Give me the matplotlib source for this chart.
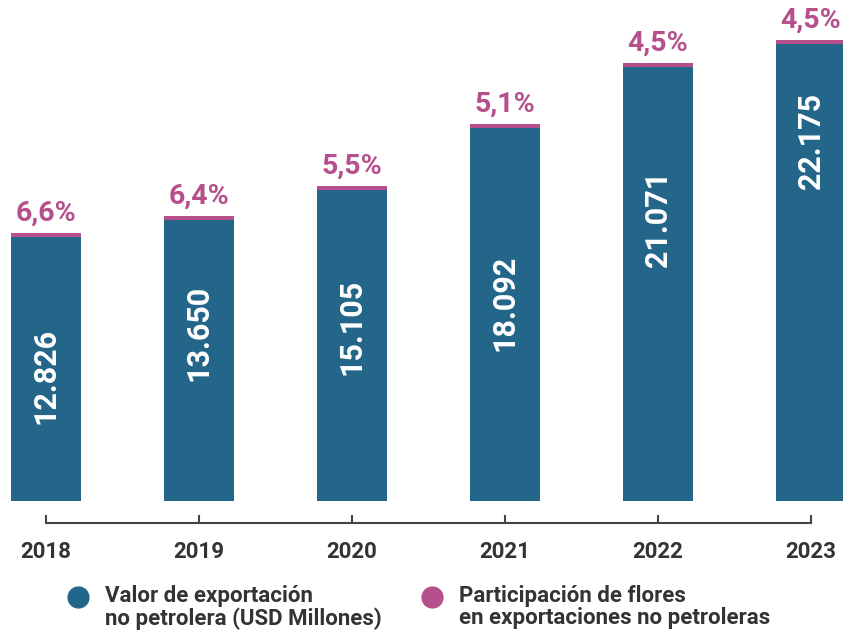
import matplotlib
matplotlib.use("Agg")
import matplotlib.pyplot as plt
from matplotlib.lines import Line2D

# ---- data ----
years = ["2018", "2019", "2020", "2021", "2022", "2023"]
export_values = [12826, 13650, 15105, 18092, 21071, 22175]
flower_share = [6.6, 6.4, 5.5, 5.1, 4.5, 4.5]
legend_labels = ["Valor de exportación\nno petrolera (USD Millones)",
                 "Participación de flores\nen exportaciones no petroleras"]

# ---- style / layout ----
BLUE = "#24668A"
MAGENTA = "#B5508C"
DARK = "#333333"
label_frac = [0.473, 0.597, 0.559, 0.531, 0.649, 0.787]  # vertical placement of in-bar labels
CAP = 195

plt.rcParams['font.family'] = ['Roboto', 'DejaVu Sans']

fig = plt.figure(figsize=(8.43, 6.32), dpi=100)
ax = fig.add_axes([0, (632 - 501) / 632, 1, 501 / 632])

x = list(range(len(years)))
ax.bar(x, export_values, width=0.46, color=BLUE)
ax.bar(x, [CAP] * len(x), bottom=export_values, width=0.46, color=MAGENTA)

for xi, v, f in zip(x, export_values, label_frac):
    ax.text(xi, v * f, f"{v:,}".replace(",", "."), rotation=90,
            ha="center", va="center", color="white",
            fontsize=22, fontweight="bold")

for xi, v, p in zip(x, export_values, flower_share):
    ax.annotate(f"{p:.1f}".replace(".", ",") + "%", (xi, v + CAP),
                xytext=(0, 4.5), textcoords="offset points",
                ha="center", va="bottom", color=MAGENTA,
                fontsize=20.5, fontweight="bold")

ax.set_xlim(-0.299, 5.211)
ax.set_ylim(0, 24300)
ax.set_yticks([])
for s in ["top", "right", "left"]:
    ax.spines[s].set_visible(False)
ax.spines["bottom"].set_position(("outward", 15.8))
ax.spines["bottom"].set_bounds(0, 5)
ax.spines["bottom"].set_color("#444444")
ax.spines["bottom"].set_linewidth(1.5)
ax.set_xticks(x)
ax.set_xticklabels(years)
ax.tick_params(axis="x", direction="in", length=6, width=1.5,
               color="#444444", pad=13, labelsize=16, labelcolor=DARK)
for t in ax.get_xticklabels():
    t.set_fontweight("bold")
ax.patch.set_visible(False)

# legend
for cx, tx, col, lab in [(78, 105, BLUE, legend_labels[0]),
                         (432, 459, MAGENTA, legend_labels[1])]:
    fig.add_artist(Line2D([cx / 843], [1 - 597 / 632], transform=fig.transFigure,
                          marker="o", markersize=15, color=col, linestyle="none"))
    fig.text(tx / 843, 1 - 585 / 632, lab, ha="left", va="top",
             fontsize=16, fontweight="bold", color=DARK, linespacing=1.0)

fig.savefig("out.png", dpi=100)
